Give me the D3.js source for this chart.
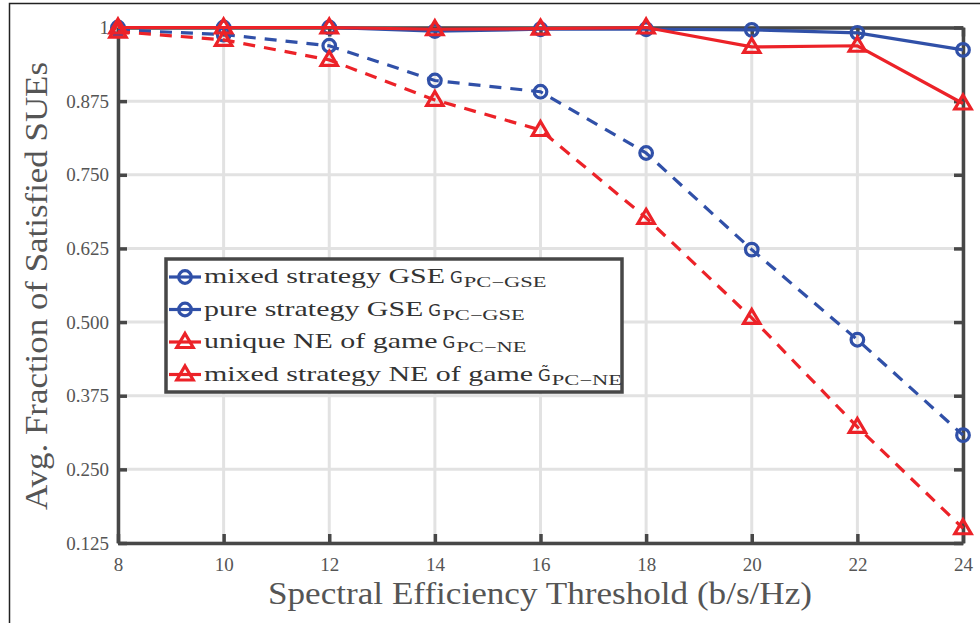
<!DOCTYPE html>
<html><head><meta charset="utf-8">
<script src="https://cdn.jsdelivr.net/npm/d3@7"></script>
<style>body{margin:0;background:#fff;}svg{display:block;}</style>
</head><body>
<script>
const thresholds = [8, 10, 12, 14, 16, 18, 20, 22, 24];
const mixedGSE  = [1.000, 1.000, 1.000, 0.994, 0.997, 0.997, 0.996, 0.991, 0.962];
const pureGSE   = [0.996, 0.988, 0.969, 0.910, 0.891, 0.787, 0.623, 0.470, 0.308];
const uniqueNE  = [0.993, 0.979, 0.945, 0.877, 0.826, 0.677, 0.507, 0.322, 0.150];
const mixedNE   = [1.000, 1.000, 1.000, 0.997, 0.998, 1.000, 0.967, 0.969, 0.871];
const yTicks = [0.125, 0.250, 0.375, 0.500, 0.625, 0.750, 0.875, 1];
const yTickLabels = ["0.125", "0.250", "0.375", "0.500", "0.625", "0.750", "0.875", "1"];
const xTicks = [8, 10, 12, 14, 16, 18, 20, 22, 24];
const legendNames = ["mixed strategy GSE", "pure strategy GSE", "unique NE of game", "mixed strategy NE of game"];
const legendG = ["G", "G", "G", "G\u0303"];
const legendSubs = ["PC\u2212GSE", "PC\u2212GSE", "PC\u2212NE", "PC\u2212NE"];

const series = [
  {values: mixedGSE, color: "#3050a8", dash: null, marker: "circle"},
  {values: pureGSE, color: "#3050a8", dash: "12,9", marker: "circle"},
  {values: uniqueNE, color: "#ec2228", dash: "12,9", marker: "triangle"},
  {values: mixedNE, color: "#ec2228", dash: null, marker: "triangle"}
];

const W = 980, H = 623;
const m = {left: 118, right: 963, top: 27.5, bottom: 543};
const svg = d3.select("body").append("svg").attr("width", W).attr("height", H);
const FONT = "Liberation Serif";
const textColor = "#555";
const axisColor = "#474747";

svg.append("path").attr("d", `M9.5,${H+2}V3.5H${W+2}`).attr("fill","none").attr("stroke","#222").attr("stroke-width",1.5);

const x = d3.scaleLinear().domain([8, 24]).range([m.left, m.right]);
const y = d3.scaleLinear().domain([0.125, 1]).range([m.bottom, m.top]);

const grid = svg.append("g");
grid.selectAll(".gx").data(xTicks).join("line")
  .attr("x1", d => x(d)).attr("x2", d => x(d)).attr("y1", m.top).attr("y2", m.bottom)
  .attr("stroke", "#e2e2e2").attr("stroke-width", 3);
grid.selectAll(".gy").data(yTicks).join("line")
  .attr("y1", d => y(d)).attr("y2", d => y(d)).attr("x1", m.left).attr("x2", m.right)
  .attr("stroke", "#e2e2e2").attr("stroke-width", 3);

const xAxis = svg.append("g").attr("transform", `translate(0,${m.bottom})`)
  .call(d3.axisBottom(x).tickValues(xTicks).tickFormat(d3.format("d")).tickSizeInner(-9).tickSizeOuter(0).tickPadding(15));
const yAxis = svg.append("g").attr("transform", `translate(${m.left},0)`)
  .call(d3.axisLeft(y).tickValues(yTicks).tickFormat(d => yTickLabels[yTicks.indexOf(d)]).tickSizeInner(-9).tickSizeOuter(0).tickPadding(9));
const xTop = svg.append("g").attr("transform", `translate(0,${m.top})`)
  .call(d3.axisTop(x).tickValues(xTicks).tickFormat("").tickSizeInner(-9).tickSizeOuter(0));
const yRight = svg.append("g").attr("transform", `translate(${m.right},0)`)
  .call(d3.axisRight(y).tickValues(yTicks).tickFormat("").tickSizeInner(-9).tickSizeOuter(0));
[xAxis, yAxis, xTop, yRight].forEach(a => {
  a.attr("font-family", FONT).attr("font-size", 19);
  a.select(".domain").attr("stroke", axisColor).attr("stroke-width", 3.5);
  a.selectAll(".tick line").attr("stroke", axisColor).attr("stroke-width", 3.5);
  a.selectAll(".tick text").attr("fill", textColor).attr("font-family", FONT).attr("font-size", 19);
});

svg.append("text").attr("x", 540).attr("y", 604)
  .attr("text-anchor", "middle").attr("font-family", FONT).attr("font-size", 32).attr("fill", textColor)
  .attr("textLength", 544).attr("lengthAdjust", "spacingAndGlyphs")
  .text("Spectral Efficiency Threshold (b/s/Hz)");
svg.append("text").attr("transform", `translate(47,286) rotate(-90)`)
  .attr("text-anchor", "middle").attr("font-family", FONT).attr("font-size", 32).attr("fill", textColor)
  .attr("textLength", 448).attr("lengthAdjust", "spacingAndGlyphs")
  .text("Avg. Fraction of Satisfied SUEs");

const line = d3.line().x((d, i) => x(thresholds[i])).y(d => y(d));
const triPath = "M0,-8.5L8.2,5.5L-8.2,5.5Z";
function drawMarker(sel, s, cx, cy) {
  if (s.marker === "circle") {
    sel.append("circle").attr("cx", cx).attr("cy", cy).attr("r", 6.3)
      .attr("fill", "none").attr("stroke", s.color).attr("stroke-width", 3.2);
  } else {
    sel.append("path").attr("d", triPath).attr("transform", `translate(${cx},${cy})`)
      .attr("fill", "none").attr("stroke", s.color).attr("stroke-width", 3.2);
  }
}
series.forEach(s => {
  const g = svg.append("g");
  g.append("path").datum(s.values).attr("d", line).attr("fill", "none")
    .attr("stroke", s.color).attr("stroke-width", 3.2)
    .attr("stroke-dasharray", s.dash);
  s.values.forEach((v, i) => drawMarker(g, s, x(thresholds[i]), y(v)));
});

// legend
const lg = svg.append("g");
lg.append("rect").attr("x", 166).attr("y", 259).attr("width", 456).attr("height", 133)
  .attr("fill", "#fff").attr("stroke", axisColor).attr("stroke-width", 3.5);
const mainStretch = 1.36, subStretch = 1.55;
series.forEach((s, i) => {
  const cy = 277 + i * 32.5;
  lg.append("line").attr("x1", 169).attr("x2", 201).attr("y1", cy).attr("y2", cy)
    .attr("stroke", s.color).attr("stroke-width", 3.2);
  drawMarker(lg, s, 185, cy);
  const t = lg.append("text").attr("x", 204).attr("y", cy + 6)
    .attr("font-family", FONT).attr("font-size", 22).attr("fill", "#333").text(legendNames[i]);
  const w = t.node().getComputedTextLength() * mainStretch;
  t.attr("textLength", w).attr("lengthAdjust", "spacingAndGlyphs");
  const gx = 204 + w + 5;
  const gt = lg.append("text").attr("x", gx).attr("y", cy + 6)
    .attr("font-family", "DejaVu Sans").attr("font-size", 16.5).attr("fill", "#333").text(legendG[i]);
  const gw = gt.node().getComputedTextLength();
  const st = lg.append("text").attr("x", gx + gw + 1).attr("y", cy + 10)
    .attr("font-family", FONT).attr("font-size", 14.5).attr("fill", "#333").text(legendSubs[i]);
  st.attr("textLength", st.node().getComputedTextLength() * subStretch).attr("lengthAdjust", "spacingAndGlyphs");
});
</script>
</body></html>
